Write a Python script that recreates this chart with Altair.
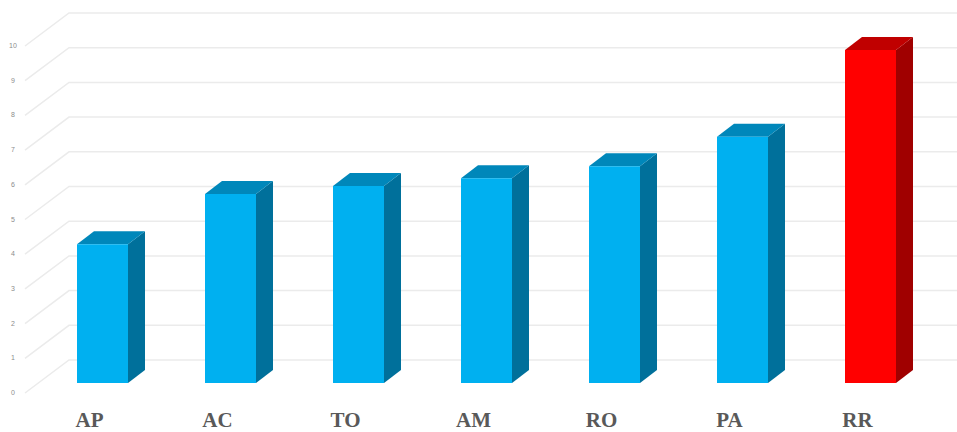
import altair as alt
import pandas as pd

# States ranked by value, with the highlighted one last
categories = ["AP", "AC", "TO", "AM", "RO", "PA", "RR"]
values = [4.0, 5.45, 5.68, 5.9, 6.25, 7.1, 9.6]
ticks = list(range(0, 11))
front_colors = ["#00B0F0"] * 6 + ["#FF0000"]
side_colors = ["#00709B"] * 6 + ["#A00000"]
top_colors = ["#0087BA"] * 6 + ["#C00000"]

W, H = 957, 432
SLOT = 128.0        # pixels per category
UNIT = 34.7         # pixels per value unit
X_ZERO = 102.5      # pixel centre of the first bar
Y_ZERO = 383.0      # pixel row of value 0 on the front plane

BAR_HALF = 25.5 / SLOT
DEPTH_X = 17 / SLOT
DEPTH_Y = 13 / UNIT

# Gridline wall geometry, in scale units
GRID_FRONT_X = (25 - X_ZERO) / SLOT
GRID_BACK_X = (69 - X_ZERO) / SLOT
GRID_END_X = (W - X_ZERO) / SLOT
GRID_FRONT_DY = -10 / UNIT
GRID_BACK_DY = 23 / UNIT

x_scale = alt.Scale(domain=[-X_ZERO / SLOT, (W - X_ZERO) / SLOT], nice=False, zero=False)
y_scale = alt.Scale(domain=[(Y_ZERO - H) / UNIT, Y_ZERO / UNIT], nice=False, zero=False)
X = lambda f: alt.X(f, type="quantitative", scale=x_scale, axis=None)
Y = lambda f: alt.Y(f, type="quantitative", scale=y_scale, axis=None)

grid_rows, tick_rows = [], []
for t in ticks:
    grid_rows.append({"tick": t, "x": GRID_FRONT_X, "y": t + GRID_FRONT_DY})
    grid_rows.append({"tick": t, "x": GRID_BACK_X, "y": t + GRID_BACK_DY})
    grid_rows.append({"tick": t, "x": GRID_END_X, "y": t + GRID_BACK_DY})
    tick_rows.append({"label": str(t), "x": (13 - X_ZERO) / SLOT, "y": t + GRID_FRONT_DY})

front_rows, side_rows, top_rows, label_rows = [], [], [], []
for i, (cat, v) in enumerate(zip(categories, values)):
    left, right = i - BAR_HALF, i + BAR_HALF
    front_rows.append({"x": left, "x2": right, "y": 0, "y2": v, "fill": front_colors[i]})
    # Right-hand face of the box
    side_rows.append({"bar": cat, "x": right, "y": v, "y2": 0, "fill": side_colors[i]})
    side_rows.append({"bar": cat, "x": right + DEPTH_X, "y": v + DEPTH_Y, "y2": DEPTH_Y, "fill": side_colors[i]})
    # Upper face of the box
    top_rows.append({"bar": cat, "x": left, "y": v, "y2": v, "fill": top_colors[i]})
    top_rows.append({"bar": cat, "x": left + DEPTH_X, "y": v + DEPTH_Y, "y2": v, "fill": top_colors[i]})
    top_rows.append({"bar": cat, "x": right, "y": v + DEPTH_Y, "y2": v, "fill": top_colors[i]})
    top_rows.append({"bar": cat, "x": right + DEPTH_X, "y": v + DEPTH_Y, "y2": v + DEPTH_Y, "fill": top_colors[i]})
    label_rows.append({"label": cat, "x": i - 13 / SLOT, "y": -38 / UNIT})

grid = alt.Chart(pd.DataFrame(grid_rows)).mark_line(color="#EBEBEB", strokeWidth=1.5).encode(
    x=X("x"), y=Y("y"), detail="tick:N"
)
tick_text = alt.Chart(pd.DataFrame(tick_rows)).mark_text(
    font="Liberation Sans", fontSize=7, color="#8C8C8C", align="center", baseline="middle"
).encode(x=X("x"), y=Y("y"), text="label:N")
front = alt.Chart(pd.DataFrame(front_rows)).mark_rect().encode(
    x=X("x"), x2="x2", y=Y("y"), y2="y2", color=alt.Color("fill:N", scale=None)
)
side = alt.Chart(pd.DataFrame(side_rows)).mark_area().encode(
    x=X("x"), y=Y("y"), y2="y2", detail="bar:N", color=alt.Color("fill:N", scale=None)
)
top = alt.Chart(pd.DataFrame(top_rows)).mark_area().encode(
    x=X("x"), y=Y("y"), y2="y2", detail="bar:N", color=alt.Color("fill:N", scale=None)
)
labels = alt.Chart(pd.DataFrame(label_rows)).mark_text(
    font="Liberation Serif", fontSize=21, fontWeight="bold", color="#595959",
    align="center", baseline="middle"
).encode(x=X("x"), y=Y("y"), text="label:N")

chart = (
    alt.layer(grid, tick_text, side, top, front, labels)
    .resolve_scale(color="independent")
    .properties(
        width=W, height=H, padding=0,
        autosize=alt.AutoSizeParams(type="none"),
        background="white",
    )
    .configure_view(stroke=None)
)

chart.save("out.html", embed_options={"renderer": "svg", "actions": False})
